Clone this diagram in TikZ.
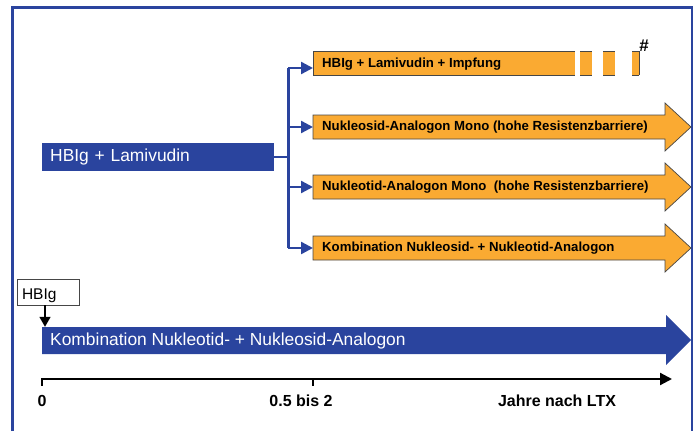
\documentclass[tikz,border=0pt]{standalone}
\usepackage{fontspec}
\setmainfont{Liberation Sans}
\usetikzlibrary{arrows.meta}
\definecolor{ltxblue}{RGB}{42,68,158}
\definecolor{ltxorange}{RGB}{250,170,50}
\definecolor{ltxedge}{RGB}{70,70,70}

\begin{document}
\begin{tikzpicture}[x=1pt, y=-1pt, >={Triangle[length=12pt, width=12pt]},
	bigtext/.style={font=\fontsize{17.4}{20}\selectfont, text=white, anchor=west, inner xsep=8pt},
	bartext/.style={font=\bfseries\fontsize{13.2}{16}\selectfont, anchor=west, inner xsep=9pt, minimum height=24pt},
	axislabel/.style={font=\bfseries\fontsize{16}{19}\selectfont},
	branch/.style={ltxblue, line width=2.4pt, ->}]
	\useasboundingbox (0,0) rectangle (696,431);
	% frame
	\draw[ltxblue, line width=3pt] (12,431) -- (12,7) -- (692,7);
	\draw[ltxblue, line width=2pt] (692,6) -- (692,431);
	% first line therapy
	\node[bigtext, fill=ltxblue, minimum height=28pt, text width=216pt, align=left] (lam) at (42,157) {HBIg + Lamivudin};
	% top bar with dashed end
	\fill[ltxorange] (313,51) rectangle (575,75);
	\draw[ltxedge, line width=0.7pt] (575,51) -- (313,51) -- (313,75) -- (575,75);
	\foreach \a/\b in {580/592, 603/615, 632/639} {
		\fill[ltxorange] (\a,51) rectangle (\b,75);
		\draw[ltxedge, line width=0.7pt] (\a,51) -- (\b,51) (\a,75) -- (\b,75);
	}
	\draw[ltxedge, line width=0.7pt] (639,51) -- (639,75);
	\node[font=\bfseries\fontsize{17}{19}\selectfont, inner sep=0pt] (hash) at (644,46) {\#};
	\node[bartext] (imp) at (313,64) {HBIg + Lamivudin + Impfung};
	% orange arrows
	\foreach \y/\nm/\txt in {127/nuk/Nukleosid-Analogon Mono (hohe Resistenzbarriere),
		187/nut/Nukleotid-Analogon Mono~ (hohe Resistenzbarriere),
		248/kom/Kombination Nukleosid- + Nukleotid-Analogon} {
		\filldraw[fill=ltxorange, draw=ltxedge, line width=0.7pt] (313,\y-12) -- (665,\y-12) -- (665,\y-24)
			-- (691,\y) -- (665,\y+24) -- (665,\y+12) -- (313,\y+12) -- cycle;
		\node[bartext] (\nm) at (313,\y) {\txt};
	}
	% branches
	\draw[ltxblue, line width=2.4pt] (lam.east) -- ++(14,0) coordinate (fork);
	\draw[ltxblue, line width=2.4pt] (fork |- 0,68) -- (fork |- kom.west);
	\draw[branch] (fork |- 0,68) -- (imp.west |- 0,68);
	\foreach \nm in {nuk, nut, kom} \draw[branch] (fork |- \nm.west) -- (\nm.west);
	% combination from the start
	\fill[ltxblue] (42,327) -- (666,327) -- (666,315) -- (691,340) -- (666,365) -- (666,354) -- (42,354) -- cycle;
	\node[bigtext, minimum height=27pt] (kn) at (42,340.5) {Kombination Nukleotid- + Nukleosid-Analogon};
	\node[draw=ltxedge, fill=white, line width=0.8pt, font=\fontsize{15.5}{18}\selectfont, text width=52pt,
		align=left, text height=15pt, text depth=1pt, minimum height=26pt, inner xsep=5pt, inner ysep=2pt] (hb) at (48,292) {HBIg};
	\draw[->, line width=1.4pt, >={Triangle[length=10pt, width=11pt]}] (hb.south -| 45,0) -- (kn.north west -| 45,0);
	% time axis
	\draw[->, line width=2.2pt] (42,379) -- (672,379);
	\foreach \x in {42, 313} \draw[line width=2.2pt] (\x,378) -- (\x,386);
	\node[axislabel] (t0) at (42,401) {0};
	\node[axislabel] (t1) at (301,401) {0.5 bis 2};
	\node[axislabel] (t2) at (557,401) {Jahre nach LTX};
\end{tikzpicture}
\end{document}
